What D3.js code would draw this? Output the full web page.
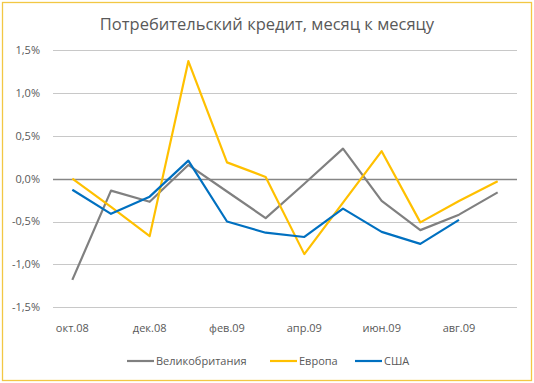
<!DOCTYPE html>
<html>
<head>
<meta charset="utf-8">
<script src="https://cdn.jsdelivr.net/npm/d3@7"></script>
<style>
  body { margin: 0; background: #fff; }
  text { font-family: "Open Sans", "Noto Sans", sans-serif; }
</style>
</head>
<body>
<svg id="chart" width="534" height="383"></svg>
<script>
// Data (percent, month over month)
const months = ['окт.08', 'ноя.08', 'дек.08', 'янв.09', 'фев.09', 'мар.09',
                'апр.09', 'май.09', 'июн.09', 'июл.09', 'авг.09', 'сен.09'];
const ukValues = [-1.18, -0.14, -0.27, 0.16, -0.15, -0.46, -0.06, 0.35, -0.26, -0.60, -0.42, -0.16];
const euValues = [0.00, -0.33, -0.67, 1.37, 0.19, 0.02, -0.88, -0.28, 0.32, -0.51, -0.26, -0.03];
const usValues = [-0.13, -0.41, -0.21, 0.21, -0.50, -0.63, -0.68, -0.35, -0.62, -0.76, -0.48];
const yTicks = [-1.5, -1.0, -0.5, 0, 0.5, 1.0, 1.5];
const seriesNames = ['Великобритания', 'Европа', 'США'];

const colors = ['#808080', '#FFC000', '#0070C0'];
const series = [ukValues, euValues, usValues];

const svg = d3.select('#chart');

// Outer border
svg.append('rect')
    .attr('x', 2.5).attr('y', 2.5)
    .attr('width', 529).attr('height', 378)
    .attr('fill', '#fff')
    .attr('stroke', '#F2C744')
    .attr('stroke-width', 1.3);

// Title
svg.append('text')
    .attr('x', 267).attr('y', 30)
    .attr('text-anchor', 'middle')
    .attr('fill', '#595959')
    .style('font-size', '16.5px')
    .text('Потребительский кредит, месяц к месяцу');

const plot = { left: 53, right: 517, top: 50, bottom: 307.3 };

const xScale = d3.scaleBand()
    .domain(months)
    .range([plot.left, plot.right]);

const yScale = d3.scaleLinear()
    .domain([-1.5, 1.5])
    .range([plot.bottom, plot.top]);

const fmt = v => d3.format('.1f')(v).replace('.', ',').replace('−', '-') + '%';

// Gridlines
svg.append('g')
    .selectAll('line')
    .data(yTicks)
    .enter()
    .append('line')
    .attr('x1', plot.left).attr('x2', plot.right)
    .attr('y1', d => Math.round(yScale(d)) + 0.5)
    .attr('y2', d => Math.round(yScale(d)) + 0.5)
    .attr('stroke', d => d === 0 ? '#868686' : '#C8C8C8')
    .attr('stroke-width', d => d === 0 ? 1.3 : 1);

// Y axis labels
svg.append('g')
    .selectAll('text')
    .data(yTicks)
    .enter()
    .append('text')
    .attr('x', 40)
    .attr('y', d => yScale(d))
    .attr('dy', '0.35em')
    .attr('text-anchor', 'end')
    .attr('fill', '#595959')
    .style('font-size', '11px')
    .text(d => fmt(d));

// X axis labels, every second month
svg.append('g')
    .selectAll('text')
    .data(months.filter((m, i) => i % 2 === 0))
    .enter()
    .append('text')
    .attr('x', d => xScale(d) + xScale.bandwidth() / 2)
    .attr('y', 332)
    .attr('text-anchor', 'middle')
    .attr('fill', '#595959')
    .style('font-size', '11px')
    .text(d => d);

// Lines
const line = d3.line()
    .x((d, i) => xScale(months[i]) + xScale.bandwidth() / 2)
    .y(d => yScale(d));

series.forEach((vals, k) => {
    svg.append('path')
        .datum(vals)
        .attr('fill', 'none')
        .attr('stroke', colors[k])
        .attr('stroke-width', 2.2)
        .attr('stroke-linejoin', 'round')
        .attr('d', line);
});

// Legend
const legendX = [127, 270, 355];
const legend = svg.append('g');
seriesNames.forEach((name, k) => {
    legend.append('line')
        .attr('x1', legendX[k]).attr('x2', legendX[k] + 27)
        .attr('y1', 361).attr('y2', 361)
        .attr('stroke', colors[k])
        .attr('stroke-width', 2.2);
    legend.append('text')
        .attr('x', legendX[k] + 29)
        .attr('y', 361)
        .attr('dy', '0.35em')
        .attr('fill', '#595959')
        .style('font-size', '11px')
        .text(name);
});
</script>
</body>
</html>
